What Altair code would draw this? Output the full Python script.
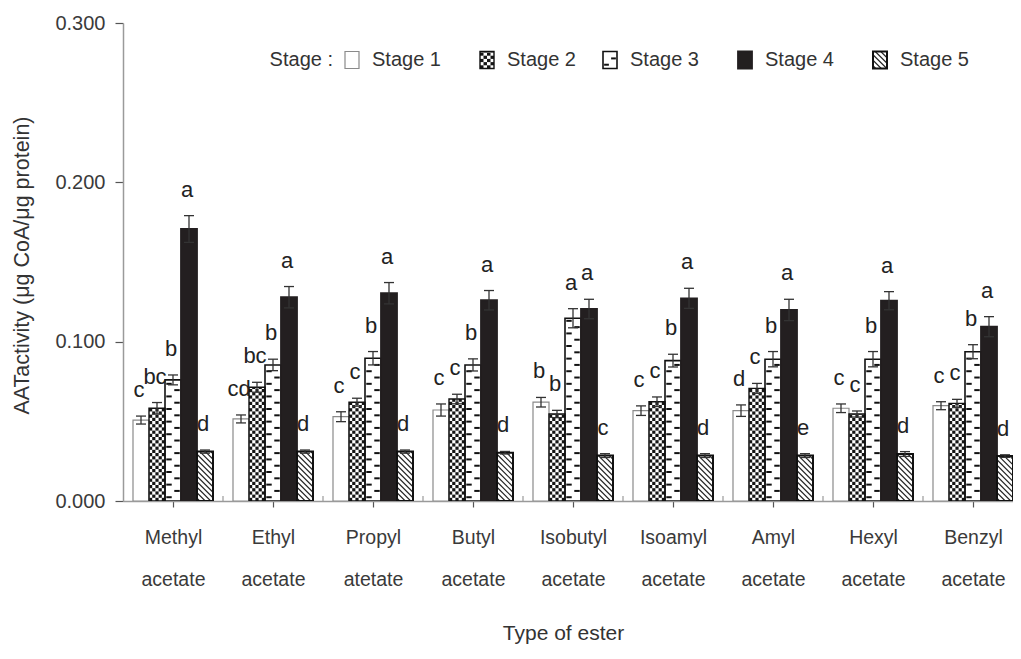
import numpy as np
import pandas as pd
import altair as alt

# ---------------- data ----------------
esters = ["Methyl", "Ethyl", "Propyl", "Butyl", "Isobutyl", "Isoamyl", "Amyl", "Hexyl", "Benzyl"]
second_line = ["acetate", "acetate", "atetate", "acetate", "acetate", "acetate", "acetate", "acetate", "acetate"]
stage_names = ["Stage 1", "Stage  2", "Stage 3", "Stage 4", "Stage 5"]

stage1 = [0.0508, 0.0515, 0.0529, 0.0571, 0.0620, 0.0567, 0.0567, 0.0582, 0.0598]
stage2 = [0.0582, 0.0714, 0.0620, 0.0640, 0.0546, 0.0623, 0.0707, 0.0546, 0.0613]
stage3 = [0.0760, 0.0854, 0.0896, 0.0854, 0.1147, 0.0881, 0.0890, 0.0890, 0.0937]
stage4 = [0.1707, 0.1279, 0.1304, 0.1260, 0.1205, 0.1272, 0.1199, 0.1257, 0.1094]
stage5 = [0.0310, 0.0310, 0.0310, 0.0303, 0.0285, 0.0285, 0.0285, 0.0295, 0.0282]

err1 = [0.0025, 0.0025, 0.0031, 0.0038, 0.0030, 0.0030, 0.0036, 0.0027, 0.0025]
err2 = [0.0036, 0.0031, 0.0025, 0.0030, 0.0023, 0.0030, 0.0031, 0.0019, 0.0025]
err3 = [0.0031, 0.0036, 0.0042, 0.0038, 0.0060, 0.0040, 0.0048, 0.0048, 0.0044]
err4 = [0.0084, 0.0067, 0.0067, 0.0061, 0.0061, 0.0063, 0.0067, 0.0057, 0.0063]
err5 = [0.0010, 0.0010, 0.0010, 0.0008, 0.0012, 0.0012, 0.0012, 0.0015, 0.0008]

letters1 = ["c", "cd", "c", "c", "b", "c", "d", "c", "c"]
letters2 = ["bc", "bc", "c", "c", "b", "c", "c", "c", "c"]
letters3 = ["b", "b", "b", "b", "a", "b", "b", "b", "b"]
letters4 = ["a", "a", "a", "a", "a", "a", "a", "a", "a"]
letters5 = ["d", "d", "d", "d", "c", "d", "e", "d", "d"]

y_ticks = [0.0, 0.1, 0.2, 0.3]

# ---------------- layout / style ----------------
FONT = "Liberation Sans"
W, H = 890, 478
Y_MAX = 0.3
X_MIN = -0.5
X_MAX = 8.4
PX_X = W / (X_MAX - X_MIN)
PX_Y = H / Y_MAX
BW = 16 / PX_X
CAP = 5 / PX_X

values = [stage1, stage2, stage3, stage4, stage5]
errs = [err1, err2, err3, err4, err5]
letters = [letters1, letters2, letters3, letters4, letters5]

rect_rows, bar_rows = [], []
for g in range(len(esters)):
    for s in range(5):
        x0 = g - 2.5 * BW + s * BW
        x1 = x0 + BW
        v, e = values[s][g], errs[s][g]
        rect_rows.append(dict(stage=stage_names[s], x0=x0, x1=x1, y0=0.0, y1=v))
        xc = (x0 + x1) / 2
        lx = min(xc - 2 / PX_X, X_MAX - 8 / PX_X)
        bar_rows.append(dict(xc=xc, xl=xc - CAP, xr=xc + CAP, lo=v - e, hi=v + e,
                             lx=lx, letter=letters[s][g]))

# legend swatches, placed in data coordinates derived from the pixel layout
LEG_Y = Y_MAX - 37 / PX_Y
SW_H = 17 / PX_Y
SW_W = 14 / PX_X
leg_px = [345, 480, 603, 738, 873]
leg_text = []
for s, px in enumerate(leg_px):
    x0 = (px - 123) / PX_X - 0.5
    rect_rows.append(dict(stage=stage_names[s], x0=x0, x1=x0 + SW_W,
                          y0=LEG_Y - SW_H / 2, y1=LEG_Y + SW_H / 2))
    leg_text.append(dict(x=x0 + SW_W + 13 / PX_X, y=LEG_Y, t=stage_names[s], a="left"))
leg_text.append(dict(x=(leg_px[0] - 123) / PX_X - 0.5 - 12 / PX_X, y=LEG_Y, t="Stage :", a="right"))

rects = pd.DataFrame(rect_rows)
bars = pd.DataFrame(bar_rows)
legtxt = pd.DataFrame(leg_text)

# ---------------- textures (derived from bar rectangles) ----------------
checks, dashes, hatches = [], [], []
for r in rect_rows:
    x0, x1, y0, y1 = r["x0"], r["x1"], r["y0"], r["y1"]
    wpx = (x1 - x0) * PX_X
    hpx = (y1 - y0) * PX_Y
    if r["stage"] == stage_names[1]:
        ncol = max(1, int(round(wpx / 3.2)))
        cw = (x1 - x0) / ncol
        ch = 3.2 / PX_Y
        nrow = int(np.ceil((y1 - y0) / ch))
        for i in range(nrow):
            for j in range(ncol):
                if (i + j) % 2 == 0:
                    checks.append(dict(a=x0 + j * cw, b=x0 + (j + 1) * cw,
                                       c=y0 + i * ch, d=min(y0 + (i + 1) * ch, y1)))
    elif r["stage"] == stage_names[2]:
        per = 6.3 / PX_Y
        k = 0
        while y0 + (k + 0.6) * per < y1 - 2 / PX_Y:
            y = y0 + (k + 0.6) * per
            w = x1 - x0
            if k % 2 == 0:
                dashes.append(dict(a=x0 + 0.08 * w, b=x0 + 0.42 * w, y=y))
            else:
                dashes.append(dict(a=x0 + 0.58 * w, b=x0 + 0.92 * w, y=y))
            k += 1
    elif r["stage"] == stage_names[4]:
        P = 5.5
        for kk in np.arange(P / 2, wpx + hpx, P):
            ulo, uhi = max(0.0, kk - hpx), min(wpx, kk)
            if uhi - ulo > 0.3:
                hatches.append(dict(xa=x0 + ulo / PX_X, ya=y0 + (kk - ulo) / PX_Y,
                                    xb=x0 + uhi / PX_X, yb=y0 + (kk - uhi) / PX_Y))

checks = pd.DataFrame(checks)
dashes = pd.DataFrame(dashes)
hatches = pd.DataFrame(hatches)

bounds = pd.DataFrame(dict(x=[g + 0.5 for g in range(len(esters) - 1)],
                           y0=[0.0] * (len(esters) - 1),
                           y1=[5 / PX_Y] * (len(esters) - 1)))

# ---------------- scales / axes ----------------
label_expr = "[" + ",".join('["%s","%s"]' % (a, b) for a, b in zip(esters, second_line)) + "][datum.value]"

xscale = alt.Scale(domain=[X_MIN, X_MAX], nice=False, zero=False)
yscale = alt.Scale(domain=[0, Y_MAX], nice=False, zero=True)

xaxis = alt.Axis(values=list(range(len(esters))), labelExpr=label_expr, title="Type of ester",
                 grid=False, tickSize=6, labelPadding=21, labelLineHeight=42, labelFontSize=19.5,
                 labelOverlap=False, labelFlush=False, labelBound=False,
                 titleX=440, titleY=132, titleFontSize=21, titleAlign="center",
                 titleBaseline="middle", titleAngle=0)
yaxis = alt.Axis(values=y_ticks, format=".3f", title="AATactivity  (μg CoA/μg protein)",
                 grid=False, tickSize=8, labelPadding=10, labelFontSize=20,
                 titleX=-101, titleY=242, titleFontSize=21.5, titleAngle=-90,
                 titleAlign="center", titleBaseline="middle")


def X(f):
    return alt.X(f, type="quantitative", scale=xscale, axis=xaxis)


def Y(f):
    return alt.Y(f, type="quantitative", scale=yscale, axis=yaxis)


fill_scale = alt.Scale(domain=stage_names, range=["white", "white", "white", "#231f20", "white"])
stroke_scale = alt.Scale(domain=stage_names, range=["#8a8a8a", "#111111", "#111111", "#231f20", "#111111"])
sw_scale = alt.Scale(domain=stage_names, range=[1.2, 2, 2.4, 1, 2])

bar_fill = alt.Chart(rects).mark_rect(clip=True).encode(
    x=X("x0"), x2="x1", y=Y("y0"), y2="y1",
    fill=alt.Fill("stage:N", scale=fill_scale, legend=None))

checker = alt.Chart(checks).mark_rect(color="#151515", clip=True).encode(
    x=X("a"), x2="b", y=Y("c"), y2="d")

dash = alt.Chart(dashes).mark_rule(color="#111111", strokeWidth=2, clip=True).encode(
    x=X("a"), x2="b", y=Y("y"))

hatch = alt.Chart(hatches).mark_rule(color="#222222", strokeWidth=1.1, clip=True).encode(
    x=X("xa"), x2="xb", y=Y("ya"), y2="yb")

bar_line = alt.Chart(rects).mark_rect(fill="white", fillOpacity=0, clip=True).encode(
    x=X("x0"), x2="x1", y=Y("y0"), y2="y1",
    stroke=alt.Stroke("stage:N", scale=stroke_scale, legend=None),
    strokeWidth=alt.StrokeWidth("stage:N", scale=sw_scale, legend=None))

ebar = alt.Chart(bars).mark_rule(color="#333333", strokeWidth=1.3, clip=True).encode(
    x=X("xc"), y=Y("lo"), y2="hi")
cap_lo = alt.Chart(bars).mark_rule(color="#333333", strokeWidth=1.3, clip=True).encode(
    x=X("xl"), x2="xr", y=Y("lo"))
cap_hi = alt.Chart(bars).mark_rule(color="#333333", strokeWidth=1.3, clip=True).encode(
    x=X("xl"), x2="xr", y=Y("hi"))

lett = alt.Chart(bars).mark_text(font=FONT, fontSize=22, color="#222222", baseline="alphabetic",
                                 dy=-19).encode(
    x=X("lx"), y=Y("hi"), text="letter:N")

bound = alt.Chart(bounds).mark_rule(color="#9a9a9a", strokeWidth=1.2, clip=True).encode(
    x=X("x"), y=Y("y0"), y2="y1")

leg_left = alt.Chart(legtxt[legtxt.a == "left"]).mark_text(
    font=FONT, fontSize=20, color="#333333", align="left", baseline="middle").encode(
    x=X("x"), y=Y("y"), text="t:N")
leg_right = alt.Chart(legtxt[legtxt.a == "right"]).mark_text(
    font=FONT, fontSize=20, color="#333333", align="right", baseline="middle").encode(
    x=X("x"), y=Y("y"), text="t:N")

chart = alt.layer(bar_fill, checker, dash, hatch, bar_line, ebar, cap_lo, cap_hi, lett,
                  bound, leg_left, leg_right).properties(
    width=W, height=H,
    autosize=alt.AutoSizeParams(type="none"),
    padding={"left": 115, "top": 15, "right": 0, "bottom": 143},
).configure_view(stroke=None).configure_axis(
    labelFont=FONT, titleFont=FONT, labelColor="#3a3a3a", titleColor="#333333",
    titleFontWeight="normal", domainColor="#9a9a9a", domainWidth=1.5,
    tickColor="#555555", tickWidth=1.2)

chart.save("out.html", embed_options={"renderer": "svg", "actions": False})
